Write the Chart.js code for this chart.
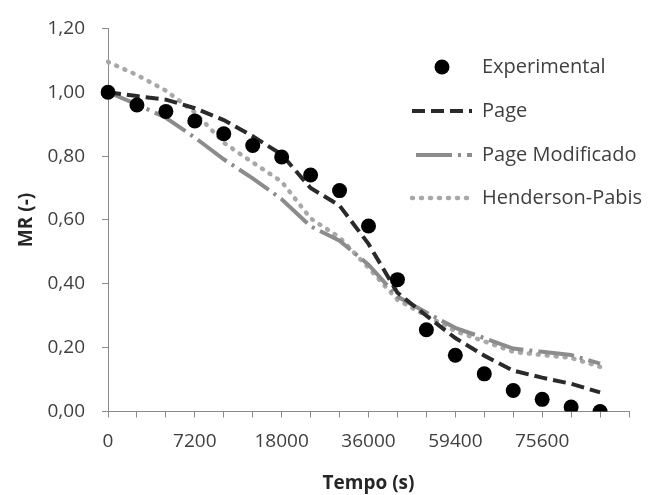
<!DOCTYPE html>
<html>
<head>
<meta charset="utf-8">
<script src="https://cdn.jsdelivr.net/npm/chart.js@4"></script>
<style>
  body { margin: 0; background: #ffffff; }
  canvas { display: block; }
</style>
</head>
<body>
<canvas id="mrChart" width="656" height="495"></canvas>
<script>
// Tempo de secagem (s) - a última categoria fica vazia
const tempo = ["0", "1800", "3600", "7200", "10800", "14400", "18000", "25200", "28800", "36000", "43200", "50400", "59400", "64800", "70200", "75600", "81000", "86400", ""];

// Razão de umidade observada
const experimental = [1.0, 0.96, 0.94, 0.91, 0.87, 0.833, 0.797, 0.741, 0.692, 0.581, 0.413, 0.256, 0.176, 0.118, 0.066, 0.038, 0.014, 0.0];

// Modelos ajustados
const page = [1.0, 0.988, 0.977, 0.95, 0.913, 0.862, 0.805, 0.7, 0.645, 0.525, 0.372, 0.3, 0.23, 0.175, 0.128, 0.106, 0.087, 0.06];
const pageModificado = [1.0, 0.962, 0.92, 0.858, 0.79, 0.73, 0.665, 0.58, 0.535, 0.46, 0.36, 0.31, 0.262, 0.23, 0.197, 0.187, 0.177, 0.15];
const hendersonPabis = [1.095, 1.054, 1.005, 0.937, 0.842, 0.78, 0.72, 0.605, 0.545, 0.45, 0.35, 0.3, 0.252, 0.22, 0.187, 0.177, 0.168, 0.14];

const axisColor = "#8a8a8a";
const textColor = "#404040";
const fontFamily = '"Open Sans", "Liberation Sans", sans-serif';

// legenda desenhada dentro da área do gráfico, no canto superior direito
const insideLegend = {
  id: "insideLegend",
  afterDraw(chart) {
    const ctx = chart.ctx;
    const x0 = 412;
    const x1 = 472;
    const textX = 482;
    const rowY = [67, 111, 155, 198];
    ctx.save();
    ctx.font = "20px " + fontFamily;
    ctx.textBaseline = "middle";
    chart.data.datasets.forEach((ds, i) => {
      const y = rowY[i];
      if (ds.showLine === false) {
        ctx.beginPath();
        ctx.arc(442, y, ds.pointRadius, 0, Math.PI * 2);
        ctx.fillStyle = ds.backgroundColor;
        ctx.fill();
      } else {
        ctx.beginPath();
        ctx.setLineDash(ds.borderDash || []);
        ctx.lineDashOffset = ds.legendDashOffset || 0;
        ctx.lineWidth = ds.borderWidth;
        ctx.strokeStyle = ds.borderColor;
        ctx.lineCap = ds.borderCapStyle || "butt";
        ctx.moveTo(x0, y);
        ctx.lineTo(x1, y);
        ctx.stroke();
        ctx.setLineDash([]);
      }
      ctx.fillStyle = textColor;
      ctx.fillText(ds.label, textX, y);
    });
    ctx.restore();
  },
};

const ctx = document.getElementById("mrChart").getContext("2d");

new Chart(ctx, {
  type: "line",
  data: {
    labels: tempo,
    datasets: [
      {
        label: "Experimental",
        data: experimental,
        showLine: false,
        pointRadius: 7.5,
        pointStyle: "circle",
        backgroundColor: "#000000",
        borderColor: "#000000",
        borderWidth: 0,
      },
      {
        label: "Page",
        data: page,
        borderColor: "#2a2a2a",
        borderWidth: 4,
        borderDash: [13, 6],
        borderCapStyle: "butt",
        pointRadius: 0,
        tension: 0,
      },
      {
        label: "Page Modificado",
        data: pageModificado,
        borderColor: "#8c8c8c",
        borderWidth: 4,
        borderDash: [36, 6, 3, 6],
        legendDashOffset: -4,
        borderCapStyle: "butt",
        pointRadius: 0,
        tension: 0,
      },
      {
        label: "Henderson-Pabis",
        data: hendersonPabis,
        borderColor: "#a8a8a8",
        borderWidth: 4.5,
        borderDash: [1, 8],
        borderCapStyle: "round",
        pointRadius: 0,
        tension: 0,
      },
    ],
  },
  options: {
    responsive: false,
    animation: false,
    layout: {
      padding: { top: 21, right: 27, left: 0, bottom: 0 },
    },
    plugins: {
      legend: { display: false },
      tooltip: { enabled: false },
    },
    scales: {
      x: {
        afterFit: function (scale) {
          scale.height = 83.5;
        },
        grid: {
          display: true,
          drawOnChartArea: false,
          drawTicks: true,
          tickLength: 6,
          color: axisColor,
        },
        border: { color: axisColor, width: 1 },
        ticks: {
          autoSkip: false,
          maxRotation: 0,
          padding: 13,
          color: textColor,
          font: { family: fontFamily, size: 19 },
          callback: function (value, index) {
            return index % 3 === 0 ? this.getLabelForValue(value) : "";
          },
        },
        title: {
          display: true,
          text: "Tempo (s)",
          color: "#262626",
          font: { family: fontFamily, size: 19, weight: "bold" },
          padding: { top: 0, bottom: 0 },
        },
      },
      y: {
        min: 0,
        max: 1.2,
        afterFit: function (scale) {
          scale.width = 108;
        },
        grid: {
          display: true,
          drawOnChartArea: false,
          drawTicks: true,
          tickLength: 6,
          color: axisColor,
        },
        border: { color: axisColor, width: 1 },
        ticks: {
          stepSize: 0.2,
          padding: 17,
          color: textColor,
          font: { family: fontFamily, size: 19 },
          callback: function (value) {
            return value.toFixed(2).replace(".", ",");
          },
        },
        title: {
          display: true,
          text: "MR (-)",
          color: "#262626",
          font: { family: fontFamily, size: 19, weight: "bold" },
          padding: { top: 15, bottom: 0 },
        },
      },
    },
  },
  plugins: [insideLegend],
});
</script>
</body>
</html>
